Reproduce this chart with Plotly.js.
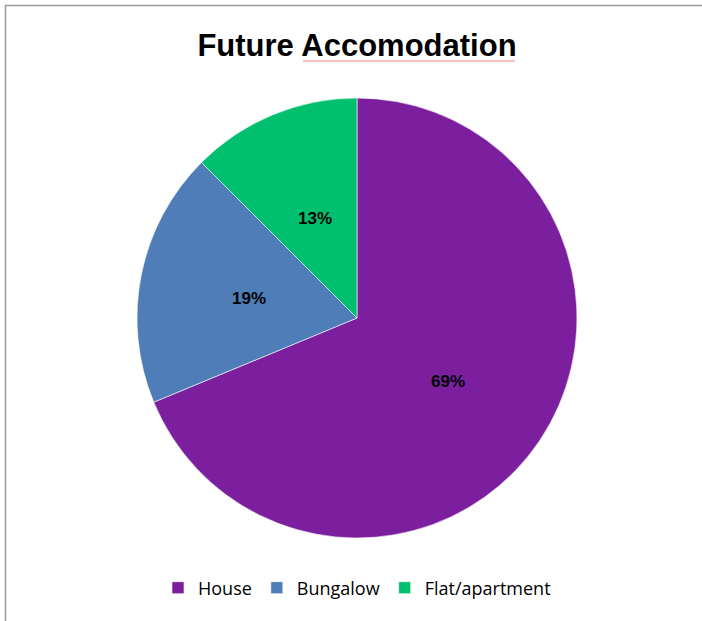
<!DOCTYPE html>
<html>
<head>
<meta charset="utf-8">
<script src="https://cdn.plot.ly/plotly-3.0.1.min.js"></script>
<style>
  html, body { margin: 0; padding: 0; background: #ffffff; }
  #chart { width: 702px; height: 621px; }
</style>
</head>
<body>
<div id="chart"></div>
<script>
  // --- Chart data ---
  const categories = ["House", "Bungalow", "Flat/apartment"];
  const counts = [55, 15, 10];
  const sliceColors = ["#7B1F9F", "#4F7DB8", "#00BF6F"];

  const W = 702, H = 621;
  // pie centre and radius in pixels, converted to a paper domain
  const cx = 357, cy = 318, r = 220;

  const trace = {
    type: "pie",
    labels: categories,
    values: counts,
    sort: false,
    direction: "clockwise",
    rotation: 0,
    marker: { colors: sliceColors, line: { color: "#ffffff", width: 0.6 } },
    textinfo: "none",
    hoverinfo: "label+percent",
    domain: {
      x: [(cx - r) / W, (cx + r) / W],
      y: [1 - (cy + r) / H, 1 - (cy - r) / H]
    }
  };

  // data labels sit half way out along each slice's middle angle (like the office chart)
  const total = counts.reduce((a, b) => a + b, 0);
  const labelAnnotations = [];
  let cum = 0;
  counts.forEach(function (v) {
    const mid = (cum + v / 2) / total * 2 * Math.PI; // clockwise from 12 o'clock
    cum += v;
    const px = cx + 0.5 * r * Math.sin(mid);
    const py = cy - 0.5 * r * Math.cos(mid);
    labelAnnotations.push({
      xref: "paper", yref: "paper",
      x: px / W, y: 1 - py / H,
      xanchor: "center", yanchor: "middle",
      yshift: -2,
      showarrow: false,
      text: "<b>" + Math.round(v / total * 100) + "%</b>",
      font: { family: "Liberation Sans, Arial, sans-serif", size: 17, color: "#000000" }
    });
  });

  const layout = {
    width: W,
    height: H,
    margin: { l: 0, r: 0, t: 0, b: 0 },
    paper_bgcolor: "#ffffff",
    title: {
      text: "<b>Future Accomodation</b>",
      x: 357 / W,
      xanchor: "center",
      y: 1 - 45 / H,
      yanchor: "middle",
      font: { family: "Liberation Sans, Arial, sans-serif", size: 31, color: "#000000" }
    },
    showlegend: true,
    legend: {
      orientation: "h",
      x: 357 / W,
      xanchor: "center",
      y: 1 - 588 / H,
      yanchor: "middle",
      font: { family: "Open Sans, sans-serif", size: 18, color: "#000000" },
      itemclick: false
    },
    annotations: labelAnnotations,
    shapes: [
      // outer chart frame (left and top edges visible)
      { type: "rect", xref: "paper", yref: "paper",
        x0: 5.5 / W, x1: 1.05, y0: -0.05, y1: 1 - 5.5 / H,
        line: { color: "#9a9a9a", width: 1.5 } },
      // spell-check underline under the title word
      { type: "line", xref: "paper", yref: "paper",
        x0: 303 / W, x1: 515 / W, y0: 1 - 61 / H, y1: 1 - 61 / H,
        line: { color: "#f08080", width: 1 } }
    ]
  };

  Plotly.newPlot("chart", [trace], layout, { displayModeBar: false, staticPlot: true });
</script>
</body>
</html>
